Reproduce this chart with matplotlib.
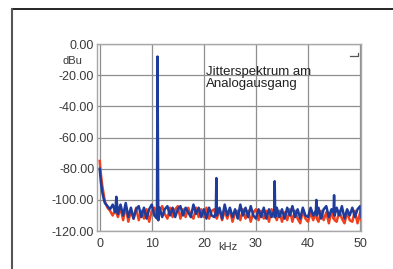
import matplotlib
matplotlib.use("Agg")
import matplotlib.pyplot as plt
from matplotlib.lines import Line2D

plt.rcParams['font.family'] = ['Liberation Sans', 'DejaVu Sans']

# frequency points in kHz (extra points around the spurious tones)
freq_khz = [
    0.0, 0.25, 0.5, 0.75, 1.0, 1.5, 2.0, 2.5, 3.0, 3.2,
    3.5, 4.0, 4.5, 5.0, 5.5, 6.0, 6.5, 7.0, 7.5, 8.0,
    8.5, 9.0, 9.5, 10.0, 10.5, 11.0, 11.1, 11.25, 11.5, 12.0,
    12.5, 13.0, 13.5, 14.0, 14.5, 15.0, 15.5, 16.0, 16.5, 17.0,
    17.5, 18.0, 18.5, 19.0, 19.5, 20.0, 20.5, 21.0, 21.5, 22.0,
    22.3, 22.4, 22.5, 23.0, 23.5, 24.0, 24.5, 25.0, 25.5, 26.0,
    26.5, 27.0, 27.5, 28.0, 28.5, 29.0, 29.5, 30.0, 30.5, 31.0,
    31.5, 32.0, 32.5, 33.0, 33.5, 33.6, 33.7, 34.0, 34.5, 35.0,
    35.5, 36.0, 36.5, 37.0, 37.5, 38.0, 38.5, 39.0, 39.5, 40.0,
    40.5, 41.0, 41.5, 41.6, 41.7, 42.0, 42.5, 43.0, 43.5, 44.0,
    44.5, 44.9, 45.0, 45.1, 45.5, 46.0, 46.5, 47.0, 47.5, 48.0,
    48.5, 49.0, 49.5, 50.0, 50.2,
]

# blue trace (dBu)
blue_dbu = [
    -80, -89, -95, -99, -102, -104, -106, -103, -108, -98,
    -109, -103, -110, -102, -111, -105, -112, -106, -104, -111,
    -105, -112, -106, -103, -110, -112, -8, -113, -105, -111,
    -106, -104, -110, -105, -111, -106, -104, -110, -105, -108,
    -111, -103, -109, -105, -111, -106, -112, -105, -110, -111,
    -108, -86, -110, -105, -112, -103, -110, -105, -111, -106,
    -112, -103, -110, -105, -111, -104, -110, -112, -106, -111,
    -105, -112, -106, -111, -107, -88, -111, -105, -111, -106,
    -112, -105, -110, -104, -111, -106, -112, -105, -110, -111,
    -105, -110, -107, -100, -110, -105, -112, -106, -104, -111,
    -106, -108, -97, -110, -105, -110, -104, -112, -106, -110,
    -105, -111, -106, -104, -111,
]

# red trace (dBu)
red_dbu = [
    -75, -84, -91, -96, -101, -105, -107, -110, -106, -108,
    -111, -105, -113, -104, -114, -107, -112, -105, -113, -107,
    -112, -106, -114, -107, -105, -111, -110, -113, -107, -104,
    -109, -112, -105, -111, -106, -104, -112, -106, -111, -105,
    -110, -112, -105, -111, -106, -111, -105, -112, -107, -106,
    -111, -108, -112, -106, -113, -107, -112, -106, -114, -108,
    -107, -113, -106, -112, -107, -114, -108, -106, -113, -107,
    -112, -107, -114, -106, -111, -108, -110, -113, -107, -114,
    -108, -113, -106, -114, -107, -112, -115, -107, -112, -114,
    -108, -113, -107, -110, -112, -114, -107, -113, -108, -115,
    -107, -112, -110, -113, -114, -107, -112, -115, -108, -113,
    -114, -107, -115, -108, -113,
]

x_ticks = [0, 10, 20, 30, 40, 50]
y_ticks = [0, -20, -40, -60, -80, -100, -120]
y_tick_labels = ['0.00', '-20.00', '-40.00', '-60.00', '-80.00', '-100.00', '-120.00']

fig = plt.figure(figsize=(3.93, 2.69), dpi=100)
ax = fig.add_axes([0.247, 0.141, 0.672, 0.695])

ax.plot(freq_khz, red_dbu, color='#f0401e', lw=1.8)
ax.plot(freq_khz, blue_dbu, color='#1e3c9c', lw=1.8)

ax.set_xlim(-0.5, 50.2)
ax.set_ylim(-120, 0)
ax.set_xticks(x_ticks)
ax.set_yticks(y_ticks)
ax.set_yticklabels(y_tick_labels)
ax.grid(True, color='#8f8f8f', lw=0.9)
ax.set_axisbelow(True)
ax.tick_params(length=0, labelsize=9, labelcolor='#3a3a3a')
ax.tick_params(axis='y', pad=2)
ax.tick_params(axis='x', pad=5)
for s in ax.spines.values():
    s.set_color('#a8a8a8')
    s.set_linewidth(1.0)

ax.text(0.413, 0.885, 'Jitterspektrum am\nAnalogausgang', transform=ax.transAxes,
        fontsize=9.5, color='#222222', va='top', ha='left', linespacing=1.0)

# small marker in the top right corner
ax.plot([0.958, 0.989, 0.989], [0.936, 0.936, 0.952], transform=ax.transAxes,
        color='#555555', lw=0.9, clip_on=False)

fig.text(0.158, 0.773, 'dBu', fontsize=8, color='#3a3a3a', va='center', ha='left')
fig.text(0.580, 0.082, 'kHz', fontsize=8, color='#3a3a3a', va='center', ha='center')

# outer frame (top and left edges)
fig.add_artist(Line2D([0.0305, 1.0], [0.9665, 0.9665], color='black', lw=1.2))
fig.add_artist(Line2D([0.0305, 0.0305], [0.0, 0.9665], color='#555555', lw=1.5))

fig.savefig('out.png', dpi=100)
